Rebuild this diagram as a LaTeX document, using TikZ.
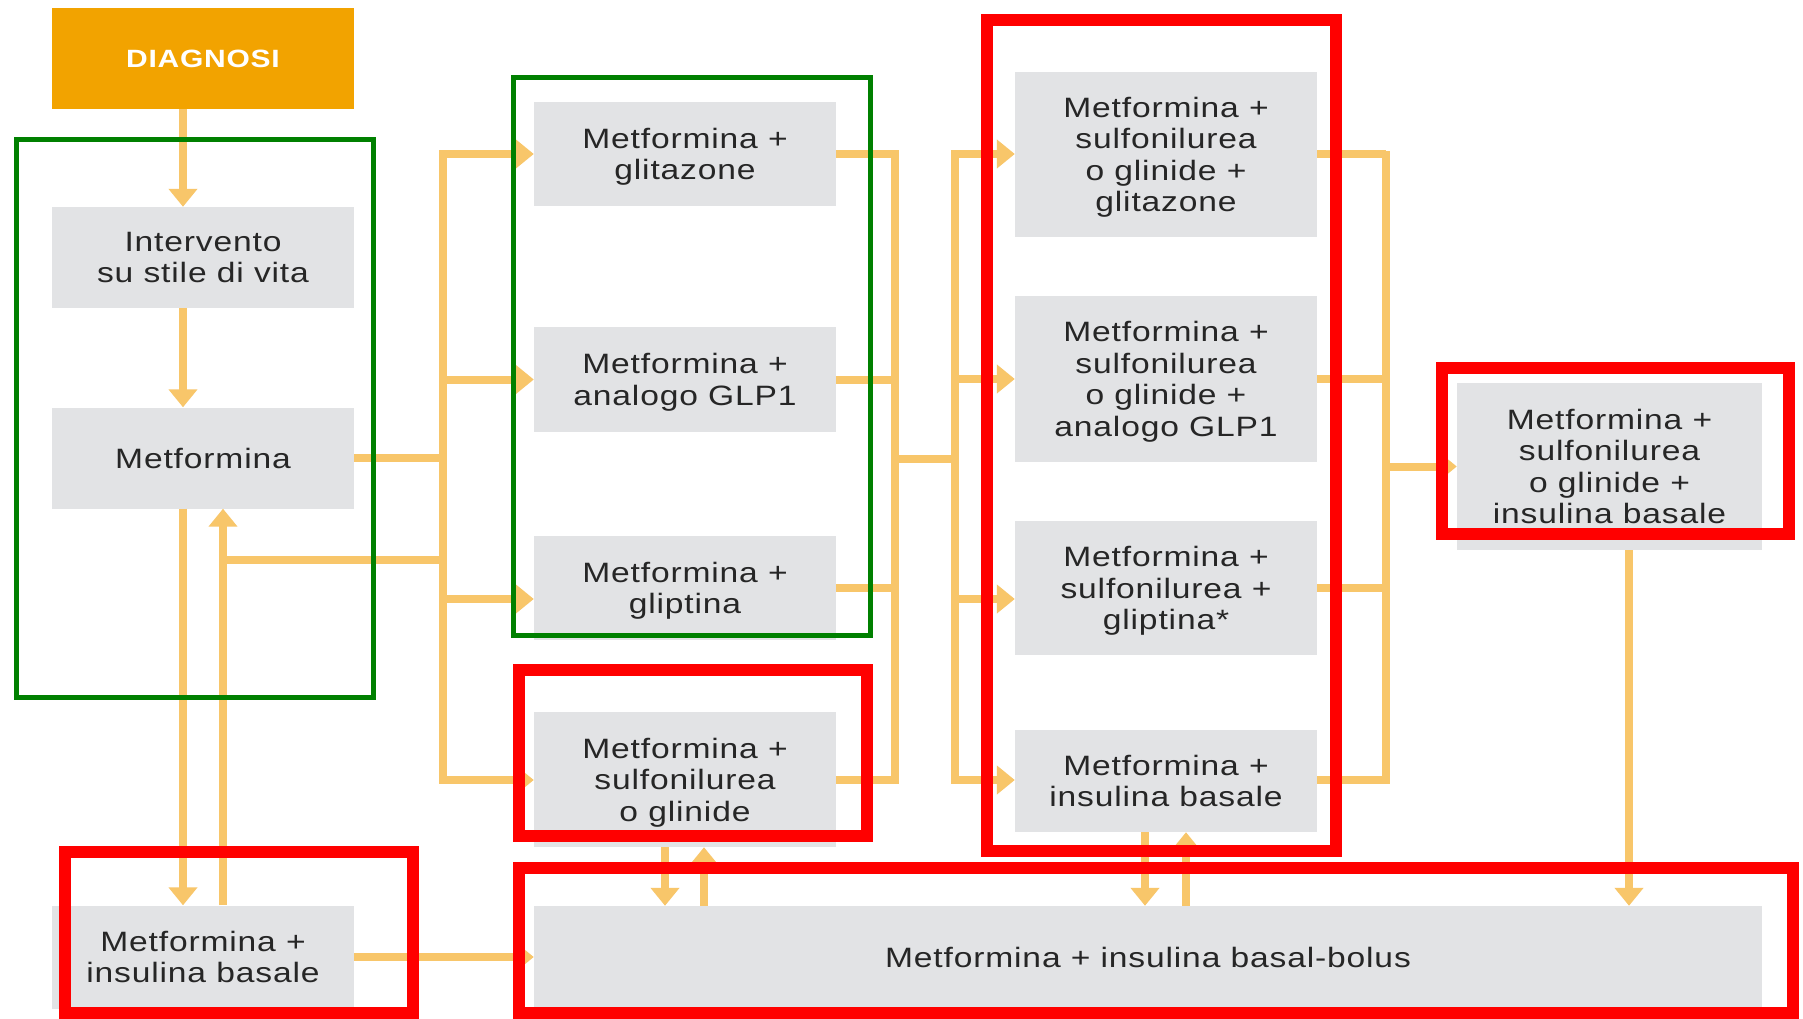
\documentclass[tikz,border=0pt]{standalone}
\usepackage{fontspec}
\setmainfont{Liberation Sans}[FakeStretch=1.2,LetterSpace=3]
\usetikzlibrary{arrows.meta}
\definecolor{lineor}{HTML}{F8C66A}
\definecolor{diagor}{HTML}{F2A300}
\definecolor{boxgray}{HTML}{E2E3E5}
\definecolor{txt}{HTML}{262626}
\definecolor{gframe}{HTML}{008000}
\definecolor{rframe}{HTML}{FF0000}
\begin{document}
\begin{tikzpicture}[x=1pt,y=-1pt,
  box/.style={fill=boxgray,inner sep=0pt,align=center,text=txt,text depth=0pt,font=\fontsize{28}{31.5}\selectfont},
  link/.style={draw=lineor,line width=8pt},
  arr/.style={link,-{Triangle[length=18pt,width=28pt]}},
  trunk/.style={link,line cap=rect},
  gfr/.style={draw=gframe,line width=5pt},
  rfr/.style={draw=rframe,line width=12pt}]
\useasboundingbox (0,0) rectangle (1803,1019);
\fill[white] (0,0) rectangle (1803,1019);
% nodes
\node[box,fill=diagor,text=white,font=\fontsize{25}{30}\selectfont\bfseries,minimum width=302pt,minimum height=101pt] (diag) at (203,58.5) {DIAGNOSI};
\node[box,minimum width=302pt,minimum height=101pt] (interv) at (203,257.5) {Intervento\\su stile di vita};
\node[box,minimum width=302pt,minimum height=101pt] (metf) at (203,458) {Metformina};
\node[box,minimum width=302pt,minimum height=103pt] (bl) at (203,957) {Metformina +\\insulina basale};
\node[box,minimum width=302pt,minimum height=103pt] (m1) at (685,154) {Metformina +\\glitazone};
\node[box,minimum width=302pt,minimum height=105pt] (m2) at (685,379.5) {Metformina +\\analogo GLP1};
\node[box,minimum width=302pt,minimum height=104pt] (m3) at (685,588) {Metformina +\\gliptina};
\node[box,minimum width=302pt,minimum height=135pt] (m4) at (685,779.5) {Metformina +\\sulfonilurea\\o glinide};
\node[box,minimum width=302pt,minimum height=165pt] (r1) at (1166,154.5) {Metformina +\\sulfonilurea\\o glinide +\\glitazone};
\node[box,minimum width=302pt,minimum height=166pt] (r2) at (1166,379) {Metformina +\\sulfonilurea\\o glinide +\\analogo GLP1};
\node[box,minimum width=302pt,minimum height=134pt] (r3) at (1166,588) {Metformina +\\sulfonilurea +\\gliptina*};
\node[box,minimum width=302pt,minimum height=102pt] (r4) at (1166,781) {Metformina +\\insulina basale};
\node[box,minimum width=305pt,minimum height=167pt] (fr) at (1609.5,466.5) {Metformina +\\sulfonilurea\\o glinide +\\insulina basale};
\node[box,minimum width=1228pt,minimum height=102pt] (bb) at (1148,957) {Metformina + insulina basal-bolus};
% guide coordinates
\coordinate (xa) at (183,0);
\coordinate (xb) at (223,0);
\coordinate (t1a) at (443,154);
\coordinate (t1b) at (443,780);
\coordinate (t1c) at (443,599);
\coordinate (fb) at (443,560);
\coordinate (t2a) at (895,154);
\coordinate (t2b) at (895,780);
\coordinate (t2c) at (895,459);
\coordinate (t3a) at (955,154);
\coordinate (t3b) at (955,780);
\coordinate (t3c) at (955,599);
\coordinate (t4a) at (1386,155);
\coordinate (t4b) at (1386,780);
\coordinate (t4c) at (1386,466.5);
\coordinate (xm4d) at (665,0);
\coordinate (xm4u) at (704,0);
\coordinate (xr4d) at (1145,0);
\coordinate (xr4u) at (1186,0);
\coordinate (xfr) at (1629,0);
% left column
\draw[arr] (diag.south -| xa) -- (interv.north -| xa);
\draw[arr] (interv.south -| xa) -- (metf.north -| xa);
\draw[arr] (metf.south -| xa) -- (bl.north -| xa);
\draw[arr] (bl.north -| xb) -- (metf.south -| xb);
\draw[link] (fb) -- (fb -| xb);
\draw[link] (metf.east) -- (metf.east -| t1a);
% trunk 1
\draw[trunk] (t1a) -- (t1b);
\draw[arr] (t1a) -- (t1a -| m1.west);
\draw[arr] (m2.west -| t1a) -- (m2.west);
\draw[arr] (t1c) -- (t1c -| m3.west);
\draw[arr] (t1b) -- (t1b -| m4.west);
% trunk 2
\draw[link] (m1.east) -- (m1.east -| t2a);
\draw[link] (m2.east) -- (m2.east -| t2a);
\draw[link] (m3.east) -- (m3.east -| t2a);
\draw[link] (m4.east) -- (m4.east -| t2a);
\draw[trunk] (t2a) -- (t2b);
\draw[link] (t2c) -- (t2c -| t3a);
% trunk 3
\draw[trunk] (t3a) -- (t3b);
\draw[arr] (t3a) -- (t3a -| r1.west);
\draw[arr] (r2.west -| t3a) -- (r2.west);
\draw[arr] (t3c) -- (t3c -| r3.west);
\draw[arr] (t3b) -- (t3b -| r4.west);
% trunk 4
\draw[link] (r1.east) -- (r1.east -| t4a);
\draw[link] (r2.east) -- (r2.east -| t4a);
\draw[link] (r3.east) -- (r3.east -| t4a);
\draw[link] (r4.east |- t4b) -- (t4b);
\draw[trunk] (t4a) -- (t4b);
\draw[arr] (t4c) -- (t4c -| fr.west);
% to basal-bolus
\draw[arr] (fr.south -| xfr) -- (bb.north -| xfr);
\draw[arr] (bl.east) -- (bb.west);
\draw[arr] (m4.south -| xm4d) -- (bb.north -| xm4d);
\draw[arr] (bb.north -| xm4u) -- (m4.south -| xm4u);
\draw[arr] (r4.south -| xr4d) -- (bb.north -| xr4d);
\draw[arr] (bb.north -| xr4u) -- (r4.south -| xr4u);
% frames
\draw[gfr] (16.5,139.5) rectangle (373.5,697.5);
\draw[gfr] (513,77.5) rectangle (870,635.5);
\draw[rfr] (987,20) rectangle (1336,851);
\draw[rfr] (1442,368) rectangle (1789,534);
\draw[rfr] (519,670) rectangle (866.5,836);
\draw[rfr] (65,852) rectangle (413,1013);
\draw[rfr] (519,867.5) rectangle (1793,1013);
\end{tikzpicture}
\end{document}
